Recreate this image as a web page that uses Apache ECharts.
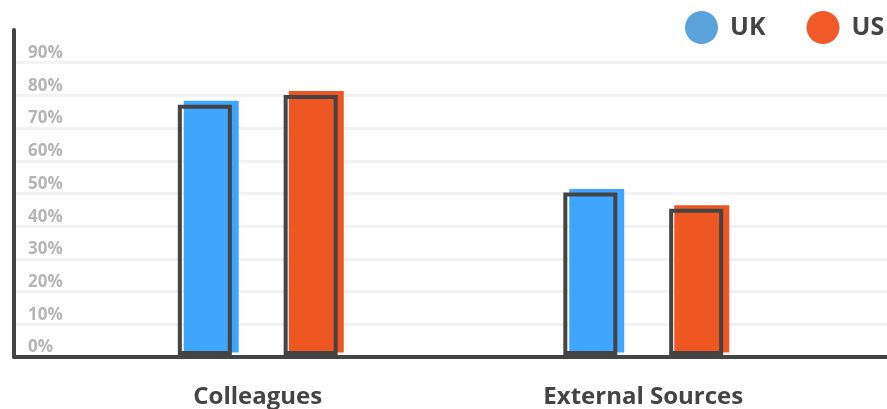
<!DOCTYPE html>
<html>
<head>
<meta charset="utf-8">
<style>
  html, body { margin: 0; padding: 0; background: #ffffff; }
  #chart { width: 887px; height: 409px; }
</style>
<script src="https://cdn.jsdelivr.net/npm/echarts@6/dist/echarts.min.js"></script>
</head>
<body>
<div id="chart"></div>
<script>
// Share of respondents citing each source, by country (%)
const categories = ['Colleagues', 'External Sources'];
const ukValues = [77, 50];
const usValues = [80, 45];
const yTickValues = [0, 10, 20, 30, 40, 50, 60, 70, 80, 90];
const yTickLabels = ['0%', '10%', '20%', '30%', '40%', '50%', '60%', '70%', '80%', '90%'];

const FONT = '"Open Sans", "Liberation Sans", sans-serif';
const INK = '#444444';

const chart = echarts.init(document.getElementById('chart'), null, { renderer: 'canvas' });

// no grid line at the top (100%) of the scale
const splitColors = yTickValues.map(() => '#f2f2f2').concat(['rgba(0,0,0,0)']);

const hiddenAxis = {
  axisLine: { show: false }, axisTick: { show: false },
  axisLabel: { show: false }, splitLine: { show: false }
};

chart.setOption({
  animation: false,
  backgroundColor: '#ffffff',
  legend: {
    data: [
      { name: 'UK', itemStyle: { color: '#5aa2da' } },
      { name: 'US', itemStyle: { color: '#f05a28' } }
    ],
    orient: 'horizontal',
    icon: 'circle',
    selectedMode: false,
    left: 685,
    top: 11,
    width: 400,
    padding: 0,
    itemWidth: 33,
    itemHeight: 33,
    itemGap: 41,
    textStyle: { fontFamily: FONT, fontSize: 25, fontWeight: 'bold', color: INK, padding: [0, 0, 0, 7] }
  },
  grid: [
    // frame: axis lines, grid lines, percentage labels
    { left: 14, right: 0, top: 30, bottom: 52 },
    // outlined bars
    { left: 65, right: 51, top: 30, bottom: 52 },
    // filled bars, nudged right and up
    { left: 71, right: 45, top: 25.5, bottom: 56.5 }
  ],
  xAxis: [
    {
      gridIndex: 0, type: 'category', data: categories,
      axisLine: { show: true, lineStyle: { color: INK, width: 4 } },
      axisTick: { show: false }, axisLabel: { show: false }, splitLine: { show: false }
    },
    {
      gridIndex: 1, type: 'category', data: categories,
      axisLine: { show: false }, axisTick: { show: false }, splitLine: { show: false },
      axisLabel: { show: true, margin: 30, fontFamily: FONT, fontSize: 24, fontWeight: 'bold', color: INK }
    },
    Object.assign({ gridIndex: 2, type: 'category', data: categories }, hiddenAxis)
  ],
  yAxis: [
    {
      gridIndex: 0, type: 'value', min: 0, max: 100, interval: 10,
      axisLine: { show: true, lineStyle: { color: INK, width: 4 } },
      axisTick: { show: false },
      splitLine: { show: true, lineStyle: { color: splitColors, width: 3 } },
      axisLabel: {
        show: true, inside: true, margin: 14,
        verticalAlign: 'bottom', padding: [0, 0, 1, 0],
        fontFamily: FONT, fontSize: 17, fontWeight: 'bold', color: '#b5b5b5',
        formatter: function (v) {
          const i = yTickValues.indexOf(v);
          return i >= 0 ? yTickLabels[i] : '';
        }
      }
    },
    Object.assign({ gridIndex: 1, type: 'value', min: 0, max: 100, interval: 10 }, hiddenAxis),
    Object.assign({ gridIndex: 2, type: 'value', min: 0, max: 100, interval: 10 }, hiddenAxis)
  ],
  series: [
    {
      name: 'UK', type: 'bar', xAxisIndex: 2, yAxisIndex: 2, data: ukValues,
      barWidth: 55, barGap: '91%', z: 2,
      itemStyle: { color: '#3ea6ff' }
    },
    {
      name: 'US', type: 'bar', xAxisIndex: 2, yAxisIndex: 2, data: usValues,
      barWidth: 55, barGap: '91%', z: 2,
      itemStyle: { color: '#ee5622' }
    },
    {
      name: 'UK outline', type: 'bar', xAxisIndex: 1, yAxisIndex: 1, data: ukValues,
      barWidth: 54, barGap: '96%', z: 3,
      itemStyle: { color: 'rgba(0,0,0,0)', borderColor: INK, borderWidth: 4 }
    },
    {
      name: 'US outline', type: 'bar', xAxisIndex: 1, yAxisIndex: 1, data: usValues,
      barWidth: 54, barGap: '96%', z: 3,
      itemStyle: { color: 'rgba(0,0,0,0)', borderColor: INK, borderWidth: 4 }
    }
  ]
});
</script>
</body>
</html>
